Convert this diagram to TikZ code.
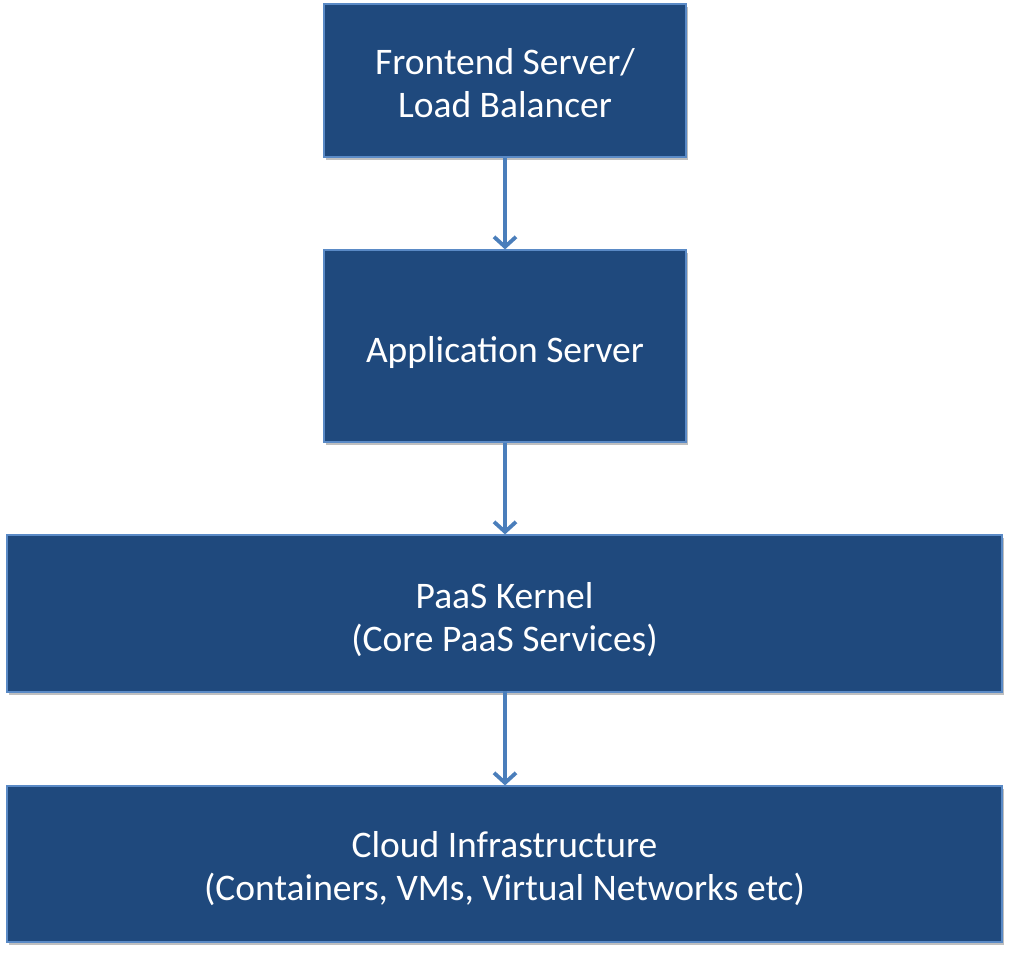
\documentclass[tikz,border=0pt]{standalone}
\usepackage{fontspec}
\setmainfont{Carlito}
\usetikzlibrary{arrows.meta,shadows}
\definecolor{boxfill}{HTML}{1F497D}
\definecolor{boxline}{HTML}{5A8AC6}
\definecolor{arrowc}{HTML}{4A7EBB}
\tikzset{
  layerbox/.style={draw=boxline, line width=1.2pt, fill=boxfill,
    inner sep=0pt,
    drop shadow={opacity=0.25, shadow xshift=2pt, shadow yshift=-3pt, fill=black}},
  layertext/.style={text=white, align=center, inner sep=0pt,
    font=\fontsize{37.5}{43}\selectfont},
  flowarrow/.style={draw=arrowc, line width=3.8pt,
    -{Straight Barb[length=10pt,width=22pt,line width=3.8pt]}}
}
\begin{document}
\begin{tikzpicture}[x=1pt,y=-1pt]
\useasboundingbox (0,0) rectangle (1010,954);
\node[layerbox, minimum width=362pt, minimum height=153pt,
  label={[layertext, yshift=-3pt]center:{Frontend Server/\\Load Balancer}}] (fe) at (505,80.5) {};
\node[layerbox, minimum width=362pt, minimum height=192pt,
  label={[layertext, yshift=-6pt]center:{Application Server}}] (app) at (505,346) {};
\node[layerbox, minimum width=995pt, minimum height=157pt,
  label={[layertext, yshift=-6pt]center:{PaaS Kernel\\(Core PaaS Services)}}] (paas) at (504.5,613.5) {};
\node[layerbox, minimum width=995pt, minimum height=156pt,
  label={[layertext, yshift=-5pt]center:{Cloud Infrastructure\\(Containers, VMs, Virtual Networks etc)}}] (cloud) at (504.5,864) {};
\draw[flowarrow] (fe.south) -- (app.north);
\draw[flowarrow] (app.south -| fe.south) -- (app.south |- paas.north);
\draw[flowarrow] (paas.north -| fe.south) ++(0,157) coordinate (p1) -- (p1 |- cloud.north);
\end{tikzpicture}
\end{document}
